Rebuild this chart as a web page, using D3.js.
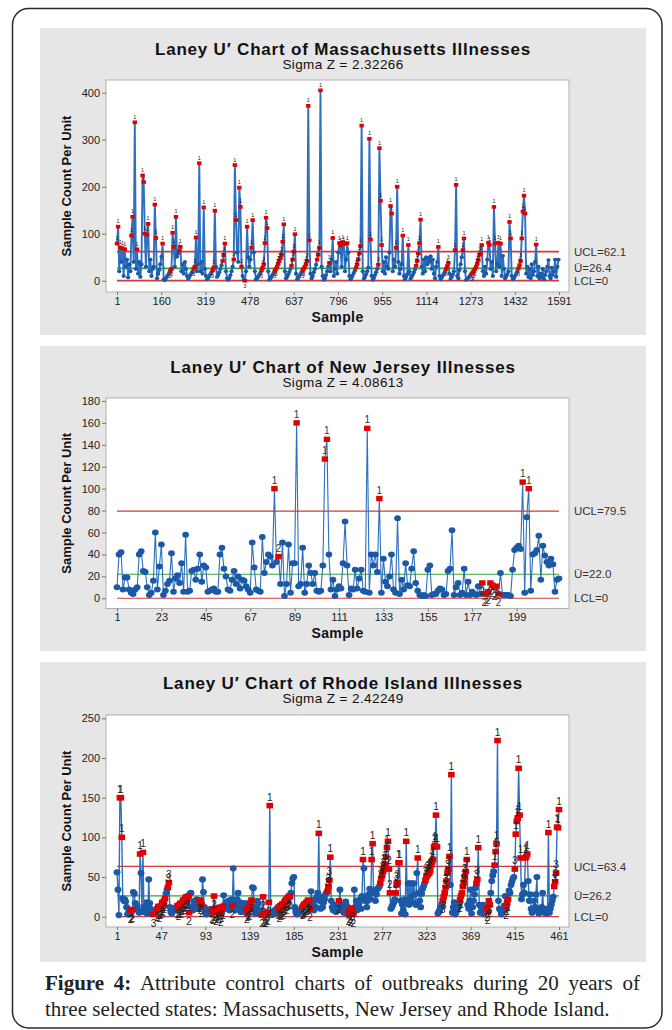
<!DOCTYPE html>
<html>
<head>
<meta charset="utf-8">
<script src="https://cdn.jsdelivr.net/npm/d3@7"></script>
<style>
  html, body { margin: 0; padding: 0; background: #ffffff; }
  svg { display: block; }
</style>
</head>
<body>
<svg id="fig" width="672" height="1030"></svg>
<script>
// ---------------- Massachusetts (one reading every fourth sample) ----------------
const maSampleStep = 4;
const maValues = [
  79, 115, 20, 71, 40, 69, 10, 67, 30, 45, 7, 35, 20, 96, 136, 40, 337, 25, 67, 15,
  40, 8, 35, 224, 210, 100, 30, 98, 121, 20, 45, 10, 25, 30, 162, 91, 5, 15, 23, 35,
  51, 79, 3, 1, 5, 9, 13, 17, 21, 25, 102, 72, 30, 136, 51, 58, 64, 72, 20, 35,
  15, 40, 25, 10, 4, 8, 12, 16, 20, 26, 30, 92, 20, 35, 250, 20, 40, 15, 156, 25,
  10, 3, 6, 10, 14, 18, 22, 28, 149, 30, 8, 12, 18, 25, 33, 42, 55, 79, 20, 5,
  2, 6, 12, 20, 30, 45, 246, 129, 60, 40, 198, 157, 30, 10, 2, 0, 20, 115, 50, 30,
  45, 70, 129, 60, 20, 3, 6, 9, 13, 17, 22, 28, 35, 80, 134, 112, 20, 2, 5, 9,
  13, 17, 21, 25, 30, 36, 42, 48, 55, 83, 120, 20, 5, 9, 14, 19, 25, 32, 45, 62,
  99, 15, 3, 6, 10, 14, 18, 22, 26, 30, 35, 42, 372, 86, 15, 5, 10, 18, 25, 34,
  45, 55, 70, 405, 30, 10, 2, 5, 12, 20, 30, 38, 20, 45, 91, 10, 25, 40, 15, 60,
  80, 75, 30, 82, 78, 20, 45, 80, 60, 10, 3, 7, 12, 17, 22, 28, 35, 45, 58, 74,
  330, 20, 4, 8, 14, 20, 28, 302, 88, 10, 2, 6, 12, 18, 25, 34, 282, 170, 76, 20,
  40, 15, 50, 30, 25, 60, 159, 143, 20, 45, 30, 70, 200, 40, 15, 25, 35, 96, 10, 3,
  8, 14, 76, 20, 4, 8, 13, 18, 24, 32, 42, 58, 80, 130, 30, 15, 45, 20, 50, 35,
  48, 40, 52, 25, 45, 15, 5, 30, 40, 72, 10, 3, 7, 11, 15, 20, 25, 31, 38, 15,
  4, 8, 13, 20, 65, 204, 10, 5, 23, 35, 50, 65, 90, 20, 2, 4, 6, 9, 12, 15,
  18, 21, 25, 30, 36, 44, 55, 58, 76, 20, 10, 30, 15, 45, 81, 76, 25, 40, 10, 157,
  79, 20, 35, 81, 30, 79, 10, 53, 25, 5, 9, 14, 20, 125, 90, 10, 3, 6, 10, 15,
  20, 26, 33, 42, 90, 147, 181, 143, 15, 30, 8, 25, 5, 35, 12, 20, 40, 77, 10, 30,
  5, 15, 8, 25, 3, 12, 20, 30, 44, 10, 5, 28, 12, 20, 45, 8, 30, 45
];
const maLastSample = 1591;
const maUCL = 62.1, maCenter = 26.4, maLCL = 0;
const maSigmaZ = "2.32266";
const maXTicks = [1, 160, 319, 478, 637, 796, 955, 1114, 1273, 1432, 1591];
const maYTicks = [0, 100, 200, 300, 400];

// ---------------- New Jersey ----------------
const njValues = [
  10, 40, 42, 8, 19, 19, 8, 5, 4, 8, 10, 40, 43, 25, 24, 10, 3, 5, 16, 60,
  8, 29, 49, 3, 7, 13, 16, 41, 6, 18, 21, 14, 32, 6, 58, 6, 7, 25, 26, 17,
  27, 40, 15, 30, 28, 6, 7, 8, 9, 6, 6, 40, 46, 27, 20, 8, 7, 17, 25, 13,
  20, 9, 17, 16, 11, 8, 5, 51, 28, 8, 7, 6, 56, 23, 33, 40, 38, 30, 100, 33,
  38, 13, 51, 2, 13, 49, 5, 32, 32, 160, 11, 13, 46, 5, 13, 30, 23, 13, 23, 7,
  6, 7, 30, 127, 145, 40, 8, 17, 2, 8, 11, 9, 32, 70, 30, 3, 9, 8, 26, 9,
  18, 26, 7, 6, 155, 5, 40, 30, 40, 24, 91, 5, 36, 15, 11, 20, 40, 8, 5, 73,
  4, 17, 8, 32, 12, 11, 27, 43, 14, 7, 3, 2, 3, 2, 26, 30, 3, 4, 4, 7,
  9, 8, 3, 4, 25, 27, 62, 3, 10, 14, 3, 5, 27, 3, 15, 3, 6, 4, 3, 11,
  4, 14, 4, 4, 6, 14, 12, 10, 11, 4, 23, 3, 3, 3, 3, 2, 26, 44, 46, 48,
  45, 106, 5, 74, 100, 7, 40, 41, 44, 57, 17, 48, 39, 33, 30, 36, 31, 6, 17, 18
];
const njUCL = 79.5, njCenter = 22.0, njLCL = 0;
const njSigmaZ = "4.08613";
const njXTicks = [1, 23, 45, 67, 89, 111, 133, 155, 177, 199];
const njYTicks = [0, 20, 40, 60, 80, 100, 120, 140, 160, 180];

// ---------------- Rhode Island ----------------
const riValues = [
  56, 34, 2, 150, 150, 100, 23, 20, 22, 19, 12, 3, 5, 3, 8, 7, 9, 31, 29, 17,
  10, 14, 8, 5, 79, 55, 6, 81, 12, 7, 5, 18, 4, 47, 17, 10, 6, 4, 3, 5,
  6, 8, 10, 13, 9, 12, 14, 18, 16, 20, 23, 29, 34, 37, 43, 12, 6, 4, 7, 9,
  11, 8, 12, 14, 11, 15, 17, 14, 18, 21, 19, 23, 25, 22, 26, 5, 29, 30, 12, 8,
  15, 20, 17, 22, 10, 18, 21, 19, 15, 47, 31, 12, 5, 3, 6, 9, 4, 7, 10, 8,
  6, 26, 10, 5, 8, 11, 7, 12, 4, 9, 13, 27, 15, 10, 18, 12, 20, 8, 16, 22,
  14, 61, 20, 8, 15, 22, 30, 12, 18, 6, 10, 14, 9, 17, 5, 8, 10, 12, 11, 18,
  21, 37, 36, 8, 4, 12, 20, 16, 8, 3, 5, 2, 25, 4, 2, 3, 6, 5, 18, 140,
  4, 2, 6, 3, 8, 5, 10, 7, 12, 9, 14, 11, 16, 13, 18, 20, 22, 19, 24, 26,
  25, 30, 42, 48, 50, 12, 6, 3, 5, 4, 8, 6, 10, 12, 14, 16, 15, 18, 19, 21,
  20, 10, 32, 15, 20, 8, 22, 12, 25, 30, 105, 20, 10, 25, 12, 18, 22, 28, 30, 32,
  38, 46, 75, 20, 12, 8, 15, 10, 6, 12, 9, 20, 34, 15, 8, 12, 5, 10, 19, 14,
  3, 5, 7, 4, 11, 6, 3, 34, 12, 20, 8, 15, 18, 22, 10, 26, 72, 61, 20, 25,
  12, 20, 28, 35, 22, 72, 92, 30, 33, 20, 28, 35, 36, 38, 42, 48, 52, 57, 62, 66,
  75, 87, 95, 60, 30, 10, 12, 15, 18, 22, 30, 40, 43, 68, 68, 20, 4, 15, 8, 22,
  3, 95, 20, 42, 15, 42, 25, 42, 18, 42, 28, 15, 55, 74, 30, 20, 12, 29, 35, 38,
  42, 46, 50, 52, 54, 55, 58, 65, 69, 72, 88, 90, 128, 88, 4, 6, 9, 12, 16, 20,
  25, 30, 37, 45, 55, 60, 76, 40, 179, 5, 12, 18, 3, 6, 9, 12, 16, 21, 26, 30,
  38, 43, 50, 57, 72, 15, 10, 20, 34, 4, 12, 20, 28, 36, 42, 47, 87, 15, 5, 12,
  8, 15, 3, 10, 12, 10, 6, 20, 15, 30, 45, 52, 57, 65, 82, 92, 222, 20, 10, 8,
  3, 6, 10, 14, 26, 12, 18, 22, 33, 30, 40, 44, 48, 50, 60, 104, 120, 124, 187, 128,
  74, 22, 28, 40, 30, 74, 76, 79, 45, 20, 28, 10, 5, 8, 20, 12, 28, 50, 8, 4,
  10, 6, 12, 30, 8, 5, 10, 4, 7, 106, 5, 10, 15, 20, 25, 38, 44, 55, 113, 112, 135
];
const riUCL = 63.4, riCenter = 26.2, riLCL = 0;
const riSigmaZ = "2.42249";
const riXTicks = [1, 47, 93, 139, 185, 231, 277, 323, 369, 415, 461];
const riYTicks = [0, 50, 100, 150, 200, 250];

// ---------------- tests for special causes ----------------
// 1: beyond a control limit; 2: nine points in a row on one side of the centre line;
// 3: six points in a row, all increasing or all decreasing. The lowest failing test is reported.
function specialCauses(vals, center, ucl, lcl) {
  return vals.map((v, i) => {
    if (v > ucl || v < lcl) return 1;
    if (i >= 8) {
      let above = true, below = true;
      for (let k = i - 8; k <= i; k++) {
        if (!(vals[k] > center)) above = false;
        if (!(vals[k] < center)) below = false;
      }
      if (above || below) return 2;
    }
    if (i >= 5) {
      let inc = true, dec = true;
      for (let k = i - 4; k <= i; k++) {
        if (!(vals[k] > vals[k - 1])) inc = false;
        if (!(vals[k] < vals[k - 1])) dec = false;
      }
      if (inc || dec) return 3;
    }
    return 0;
  });
}

const svg = d3.select("#fig");
const FONT = "'Liberation Sans', Arial, sans-serif";
const BLUE_LINE = "#2e6fbe", BLUE_DOT = "#1b59a6", RED = "#e00000";
const LIMIT_RED = "#d03a3a", CENTER_GREEN = "#38a338";

// outer figure frame
svg.append("rect")
  .attr("x", 12.5).attr("y", 8.5).attr("width", 649.5).attr("height", 1019.5)
  .attr("rx", 16).attr("fill", "#fff").attr("stroke", "#2a2a2a").attr("stroke-width", 1.5);

function drawPanel(p) {
  const g = svg.append("g");
  g.append("rect").attr("x", 40).attr("y", p.top).attr("width", 606).attr("height", p.height)
    .attr("fill", "#e6e6e6");

  const x = d3.scaleLinear().domain([1, p.lastSample]).range([117, 559]);
  const y = d3.scaleLinear().domain(p.yDomain).range([p.plotBottom, p.plotTop]);

  // titles
  g.append("text").attr("x", 343).attr("y", p.top + 26.5)
    .attr("text-anchor", "middle").attr("font-family", FONT).attr("font-weight", "bold")
    .attr("font-size", 17).attr("letter-spacing", 0.8).attr("fill", "#111").text(p.title);
  g.append("text").attr("x", 343).attr("y", p.top + 41)
    .attr("text-anchor", "middle").attr("font-family", FONT)
    .attr("font-size", 13.5).attr("letter-spacing", 0.4).attr("fill", "#111").text("Sigma Z = " + p.sigmaZ);

  // plot area
  g.append("rect").attr("x", 106).attr("y", p.plotTop).attr("width", 463)
    .attr("height", p.plotBottom - p.plotTop).attr("fill", "#fff")
    .attr("stroke", "#b0b0b0").attr("stroke-width", 1);

  // axes
  const ya = g.append("g").attr("transform", "translate(106,0)")
    .call(d3.axisLeft(y).tickValues(p.yTicks).tickFormat(d3.format("d"))
      .tickSize(4).tickPadding(2).tickSizeOuter(0));
  const xa = g.append("g").attr("transform", `translate(0,${p.plotBottom})`)
    .call(d3.axisBottom(x).tickValues(p.xTicks).tickFormat(d3.format("d"))
      .tickSize(3).tickPadding(2).tickSizeOuter(0));
  [ya, xa].forEach(a => {
    a.select(".domain").remove();
    a.selectAll(".tick line").attr("stroke", "#777");
    a.selectAll(".tick text").attr("font-family", FONT).attr("font-size", 11).attr("fill", "#222");
  });

  g.append("text").attr("x", 337.5).attr("y", p.plotBottom + 29.5)
    .attr("text-anchor", "middle").attr("font-family", FONT).attr("font-weight", "bold")
    .attr("font-size", 14).attr("letter-spacing", 0.4).attr("fill", "#111").text("Sample");
  g.append("text")
    .attr("transform", `translate(71,${(p.plotTop + p.plotBottom) / 2}) rotate(-90)`)
    .attr("text-anchor", "middle").attr("font-family", FONT).attr("font-weight", "bold")
    .attr("font-size", 13).attr("fill", "#111").text("Sample Count Per Unit");

  // control limits
  const limits = [
    { v: p.ucl, c: LIMIT_RED, label: "UCL=" + p.ucl.toFixed(1) },
    { v: p.center, c: CENTER_GREEN, label: "\u016A=" + p.center.toFixed(1) },
    { v: p.lcl, c: LIMIT_RED, label: "LCL=" + p.lcl }
  ];
  limits.forEach(l => {
    g.append("line").attr("x1", x(1)).attr("x2", x(p.lastSample))
      .attr("y1", y(l.v)).attr("y2", y(l.v))
      .attr("stroke", l.c).attr("stroke-width", p.limitWidth);
    g.append("text").attr("x", 574).attr("y", y(l.v)).attr("dy", "0.36em")
      .attr("font-family", FONT).attr("font-size", 11.5).attr("fill", "#333").text(l.label);
  });

  // data
  const tests = specialCauses(p.values, p.center, p.ucl, p.lcl);
  const pts = p.values.map((v, i) => ({ s: p.firstSample + p.step * i, v, t: tests[i] }));

  g.append("path").datum(pts)
    .attr("d", d3.line().x(d => x(d.s)).y(d => y(d.v)))
    .attr("fill", "none").attr("stroke", BLUE_LINE).attr("stroke-width", p.lineWidth)
    .attr("stroke-linejoin", "round");

  g.append("g").selectAll("ellipse").data(pts.filter(d => !d.t)).join("ellipse")
    .attr("cx", d => x(d.s)).attr("cy", d => y(d.v))
    .attr("rx", p.dotR * 1.12).attr("ry", p.dotR)
    .attr("fill", BLUE_DOT);

  g.append("g").selectAll("rect").data(pts.filter(d => d.t)).join("rect")
    .attr("x", d => x(d.s) - p.sq / 2).attr("y", d => y(d.v) - p.sq * 0.42)
    .attr("width", p.sq).attr("height", p.sq * 0.84)
    .attr("fill", RED);

  g.append("g").selectAll("text").data(pts.filter(d => d.t)).join("text")
    .attr("x", d => x(d.s))
    .attr("y", d => d.v >= p.center ? y(d.v) - p.labOff : y(d.v) + p.labOff + p.labSize * 0.72)
    .attr("text-anchor", "middle").attr("font-family", FONT)
    .attr("font-size", p.labSize).attr("fill", p.labColor)
    .text(d => d.t);
}

drawPanel({
  title: "Laney U\u2032 Chart of Massachusetts Illnesses", sigmaZ: maSigmaZ,
  top: 28, height: 307, plotTop: 80, plotBottom: 292, yDomain: [-24, 427],
  values: maValues, firstSample: 1, step: maSampleStep, lastSample: maLastSample,
  ucl: maUCL, center: maCenter, lcl: maLCL, xTicks: maXTicks, yTicks: maYTicks,
  lineWidth: 1.9, dotR: 1.9, sq: 4.4, labSize: 5.5, labOff: 3.5, labColor: "#222", limitWidth: 1.8
});

drawPanel({
  title: "Laney U\u2032 Chart of New Jersey Illnesses", sigmaZ: njSigmaZ,
  top: 346, height: 305, plotTop: 398, plotBottom: 608.5, yDomain: [-9.3, 182.7],
  values: njValues, firstSample: 1, step: 1, lastSample: njValues.length,
  ucl: njUCL, center: njCenter, lcl: njLCL, xTicks: njXTicks, yTicks: njYTicks,
  lineWidth: 1.1, dotR: 3.0, sq: 6.4, labSize: 10, labOff: 5, labColor: "#333", limitWidth: 1.1
});

drawPanel({
  title: "Laney U\u2032 Chart of Rhode Island Illnesses", sigmaZ: riSigmaZ,
  top: 662, height: 300, plotTop: 715, plotBottom: 927, yDomain: [-13, 254.2],
  values: riValues, firstSample: 1, step: 1, lastSample: riValues.length,
  ucl: riUCL, center: riCenter, lcl: riLCL, xTicks: riXTicks, yTicks: riYTicks,
  lineWidth: 1.4, dotR: 3.1, sq: 6.6, labSize: 10, labOff: 5, labColor: "#222", limitWidth: 1.2
});

// caption
const SERIF = "'Liberation Serif', 'Times New Roman', serif";
const cap1 = svg.append("text").attr("x", 45).attr("y", 990)
  .attr("font-family", SERIF).attr("font-size", 21).attr("fill", "#222");
cap1.append("tspan").attr("font-weight", "bold").text("Figure 4:");
cap1.append("tspan").text(" Attribute control charts of outbreaks during 20 years of");
// spread the first line across the full text column
const natural = cap1.node().getComputedTextLength();
const gaps = 10;
cap1.attr("word-spacing", Math.max(0, (595 - natural) / gaps));

svg.append("text").attr("x", 45).attr("y", 1016)
  .attr("font-family", SERIF).attr("font-size", 21).attr("fill", "#222")
  .text("three selected states: Massachusetts, New Jersey and Rhode Island.");
</script>
</body>
</html>
